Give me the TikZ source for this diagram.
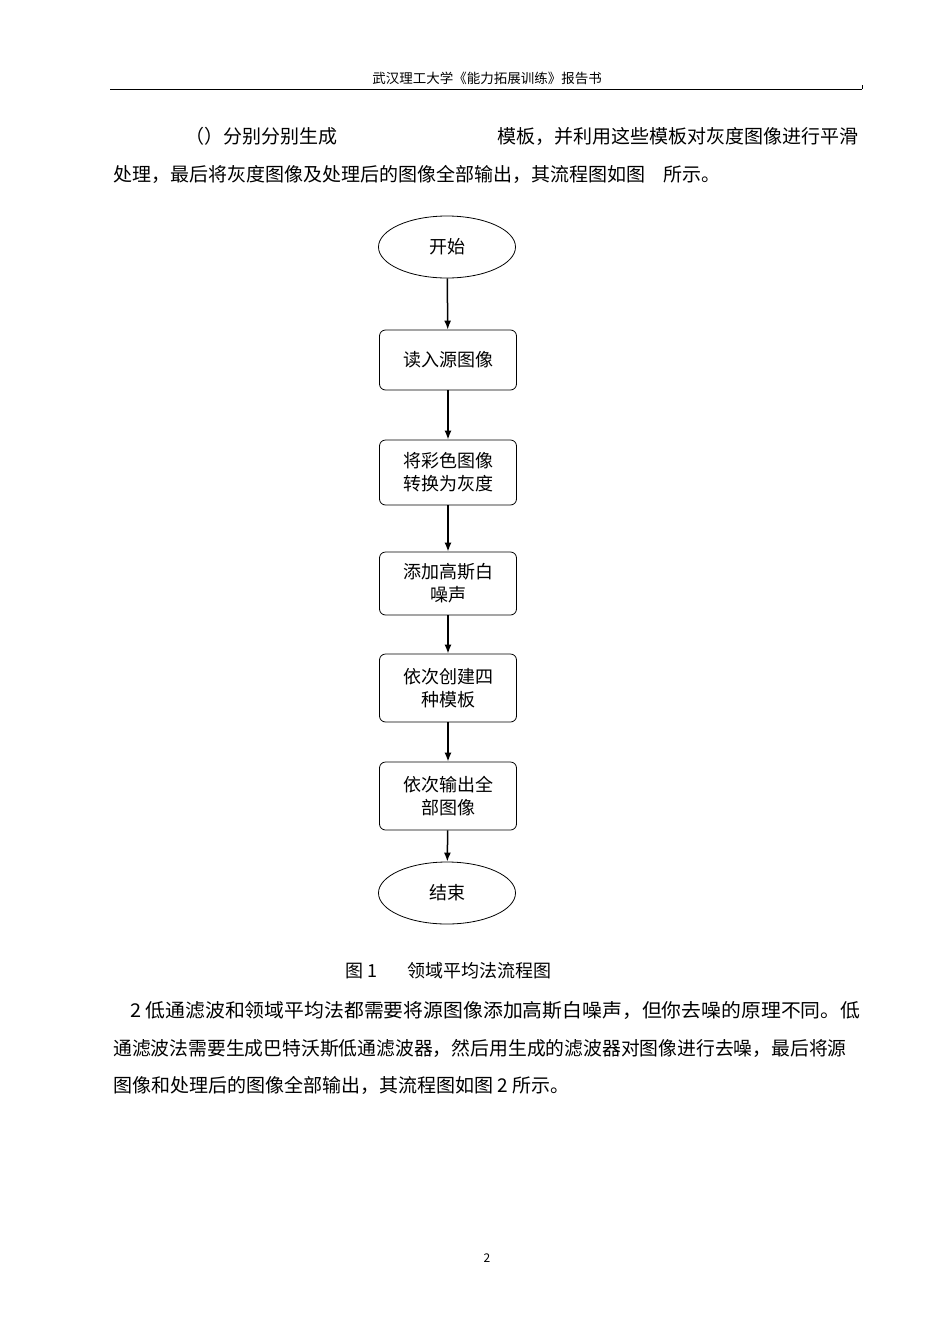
\documentclass[tikz,border=0pt]{standalone}
\usepackage{fontspec}
\setmainfont{Noto Sans CJK SC}
\usetikzlibrary{shapes.geometric,arrows.meta}
\tikzset{
 txt/.style={inner sep=0pt,anchor=west,font=\fontsize{19}{19}\selectfont},
 stepbox/.style={draw,thick,rounded corners=6pt,minimum width=137pt,align=center,font=\fontsize{18}{23}\selectfont,inner sep=0pt},
 term/.style={draw,thick,ellipse,minimum width=137pt,minimum height=62pt,font=\fontsize{18}{23}\selectfont,inner sep=0pt},
 arr/.style={line width=1.5pt,-{Latex[length=9pt,width=7pt]}}
}
\begin{document}
\begin{tikzpicture}[x=1pt,y=-1pt]
\useasboundingbox[fill=white] (0,0) rectangle (950,1344);
\node[inner sep=0pt,font=\fontsize{13.5}{13.5}\selectfont] (hdr) at (487,78) {武汉理工大学《能力拓展训练》报告书};
\draw[thick] (110,89) -- (862,89);
\draw (862,85) -- (862,89);
\node[txt] (p1a) at (185,136) {（）分别分别生成};
\node[txt] (p1b) at (497,136) {模板，并利用这些模板对灰度图像进行平滑};
\node[txt] (p2) at (113,174) {处理，最后将灰度图像及处理后的图像全部输出，其流程图如图\hspace{18pt}所示。};
\node[term] (s) at (447,247) {开始};
\node[stepbox,minimum height=60pt] (b1) at (448,360) {读入源图像};
\node[stepbox,minimum height=65pt] (b2) at (448,472.5) {将彩色图像\\转换为灰度};
\node[stepbox,minimum height=63pt] (b3) at (448,583.5) {添加高斯白\\噪声};
\node[stepbox,minimum height=68pt] (b4) at (448,688) {依次创建四\\种模板};
\node[stepbox,minimum height=68pt] (b5) at (448,796) {依次输出全\\部图像};
\node[term] (e) at (447,893) {结束};
\draw[arr] (s) -- (b1);
\draw[arr] (b1) -- (b2);
\draw[arr] (b2) -- (b3);
\draw[arr] (b3) -- (b4);
\draw[arr] (b4) -- (b5);
\draw[arr] (b5) -- (e);
\node[txt,font=\fontsize{18}{18}\selectfont] (cap) at (345,971) {图 1\hspace{30pt}领域平均法流程图};
\node[txt] (q1) at (130,1010) {\scalebox{1.045}[1]{2 低通滤波和领域平均法都需要将源图像添加高斯白噪声，但你去噪的原理不同。低}};
\node[txt] (q2) at (113,1048) {\scalebox{0.99}[1]{通滤波法需要生成巴特沃斯低通滤波器，然后用生成的滤波器对图像进行去噪，最后将源}};
\node[txt] (q3) at (113,1085) {图像和处理后的图像全部输出，其流程图如图 2 所示。};
\node[inner sep=0pt,font=\fontsize{12}{12}\selectfont] (pg) at (487,1258) {2};
\end{tikzpicture}
\end{document}
